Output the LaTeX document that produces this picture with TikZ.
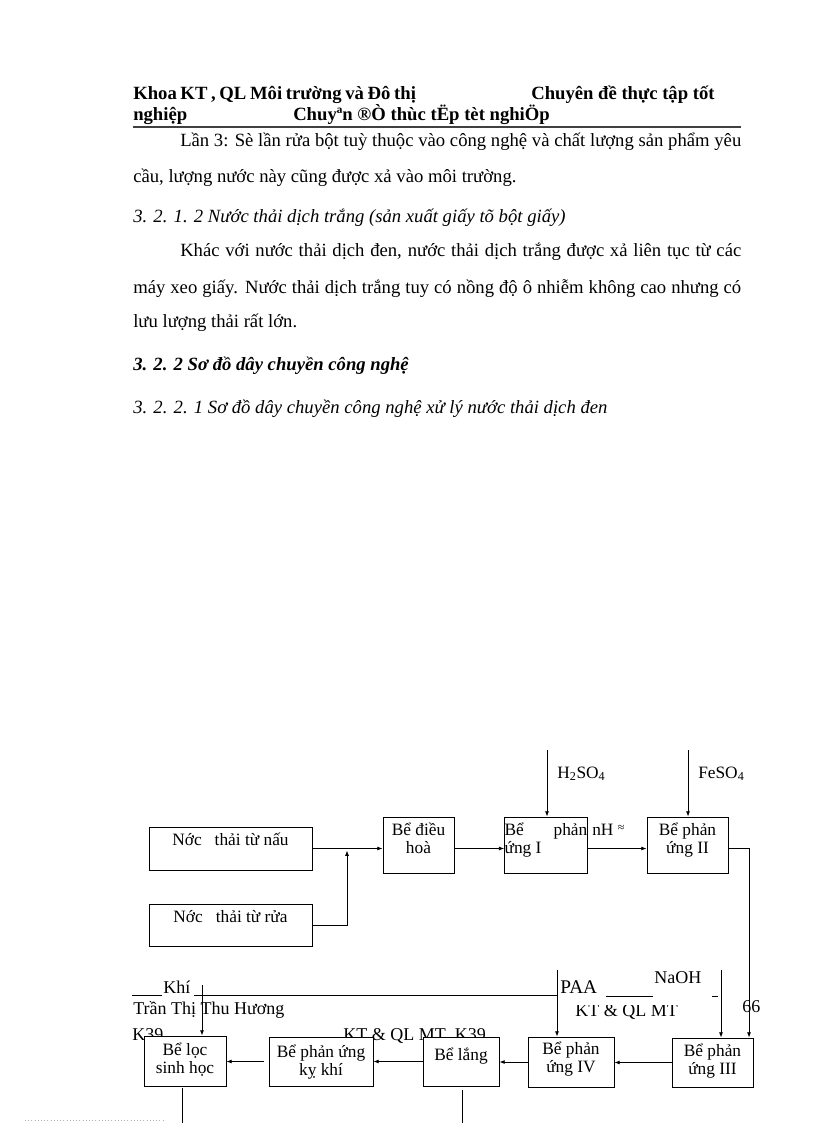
\documentclass[tikz,border=0pt]{standalone}
\usepackage{fontspec}
\setmainfont{Liberation Serif}
\usetikzlibrary{arrows.meta}

\tikzset{
  box/.style={draw, fill=white, line width=0.6pt, inner sep=0pt, text height=10pt,
    font=\fontsize{13}{13.5}\selectfont},
  wh/.style 2 args={minimum width=#1*0.75pt, minimum height=#2*0.75pt},
  dep/.style={text depth=#1},
  flow/.style={line width=0.6pt, -{Latex[length=4pt,width=3pt]}},
  wire/.style={line width=0.6pt},
  body/.style={anchor=base west, inner sep=0pt, font=\fontsize{14}{16}\selectfont},
  ital/.style={body, font=\fontsize{14}{16}\selectfont\itshape},
  head/.style={body, font=\fontsize{14}{16}\selectfont\bfseries},
  tag/.style={anchor=base west, inner sep=0pt, font=\fontsize{13.5}{15}\selectfont},
}
\newcommand\twolines[3][c]{\begin{tabular}[t]{@{}#1@{}}#2\\#3\end{tabular}}

\begin{document}
\begin{tikzpicture}[x=0.75pt,y=-0.75pt]
\useasboundingbox (0,0) rectangle (816,1123);

\node[head] (hd1) at (133,100) {\makebox[212pt][s]{Khoa KT , QL Môi trường và Đô thị}};
\node[head] (hd2) at (531,100) {Chuyên đề thực tập tốt};
\node[head] (hd3) at (133,121) {nghiệp};
\node[head] (hd4) at (293,121) {Chuyªn ®Ò thùc tËp tèt nghiÖp};
\draw[line width=1.2pt, black!75] (133,127) -- (741,127);

\node[body] (p1) at (180,147) {\makebox[420.75pt][s]{Lần 3: Sè lần rửa bột tuỳ thuộc vào công nghệ và chất lượng sản phẩm yêu}};
\node[body] (p2) at (133,183) {cầu, lượng nước này cũng được xả vào môi trường.};
\node[ital] (s1) at (133,223) {3. 2. 1. 2 Nước thải dịch trắng (sản xuất giấy tõ bột giấy)};
\node[body] (p3) at (180,257) {\makebox[420.75pt][s]{Khác với nước thải dịch đen, nước thải dịch trắng được xả liên tục từ các}};
\node[body] (p4) at (133,293) {\makebox[456pt][s]{máy xeo giấy. Nước thải dịch trắng tuy có nồng độ ô nhiễm không cao nhưng có}};
\node[body] (p5) at (133,327) {lưu lượng thải rất lớn.};
\node[ital, font=\fontsize{14}{16}\selectfont\bfseries\itshape] (s2) at (133,370) {3. 2. 2 Sơ đồ dây chuyền công nghệ};
\node[ital] (s3) at (133,413) {3. 2. 2. 1 Sơ đồ dây chuyền công nghệ xử lý nước thải dịch đen};

% footer left over on the drawing
\node[tag] (khi) at (163,993) {Khí};
\draw[wire] (132,995) -- (162,995);
\draw[wire] (194,995) -- (558,995);
\node[tag, font=\fontsize{14.5}{15}\selectfont] (paa) at (560,993) {PAA};
\draw[wire] (606,996) -- (653,996);
\node[tag] (naoh) at (654,983) {NaOH};
\draw[wire] (712,996) -- (718,996);
\node[tag] (ten) at (133,1014) {Trần Thị Thu Hương};
\node[tag] (k39a) at (132,1040) {K39};
\node[tag] (k39b) at (343,1040) {KT \& QL MT\ \ K39};
\begin{scope}
\clip (570,1005) rectangle (690,1025);
\node[tag] (ktql) at (575,1016) {KT \& QL MT};
\end{scope}
\node[tag] (trang) at (742,1012) {66};
\draw[gray!60, dotted] (25,1120) -- (165,1120);

% boxes
\node[box, wh={163}{43}, dep=15.25pt] (nau) at (230.5,848.5) {Nớc\ \ \ thải từ nấu};
\node[box, wh={163}{42}, dep=14.5pt] (rua) at (230.5,925) {Nớc\ \ \ thải từ rửa};
\node[box, wh={71}{56}, dep=24.25pt] (dieuhoa) at (418.5,845) {\twolines{Bể điều}{hoà}};
\node[box, wh={82}{56}, dep=24.25pt] (pu1) at (546,845) {\twolines[l]{\makebox[62pt][s]{Bể phản}}{ứng I}};
\node[box, wh={81}{56}, dep=24.25pt] (pu2) at (687.5,845) {\twolines{Bể phản}{ứng II}};
\node[box, wh={81}{49}, dep=19.75pt] (pu3) at (712.5,1062.5) {\twolines{Bể phản}{ứng III}};
\node[box, wh={86}{50}, dep=22pt] (pu4) at (571,1062) {\twolines{Bể phản}{ứng IV}};
\node[box, wh={76}{49}, dep=12.25pt] (lang) at (461,1061.5) {Bể lắng};
\node[box, wh={104}{49}, dep=16.75pt] (kykhi) at (321,1061.5) {\twolines{Bể phản ứng}{kỵ khí}};
\node[box, wh={82}{50}, dep=19pt] (loc) at (185,1061) {\twolines{Bể lọc}{sinh học}};

\node[tag, font=\fontsize{13}{14}\selectfont] (h2so4) at (557,778) {H\textsubscript{2}SO\textsubscript{4}};
\node[tag, font=\fontsize{13}{14}\selectfont] (feso4) at (698,778) {FeSO\textsubscript{4}};
\node[tag, font=\fontsize{13}{14}\selectfont] (ph) at (592,835) {nH \raisebox{3pt}{\small ≈}};

% top row
\coordinate (jn) at (347,848.5);
\coordinate (inh) at (547,750);
\coordinate (infe) at (688,750);
\coordinate (down) at (749,848.5);
\draw[flow] (nau.east) -- (nau.east -| dieuhoa.west);
\draw[flow] (rua.east) -| ([yshift=-1.5pt]jn);
\draw[flow] (dieuhoa.east |- nau.east) -- (pu1.west |- nau.east);
\draw[flow] (pu1.east |- nau.east) -- (pu2.west |- nau.east);
\draw[flow] (inh) -- (inh |- pu1.north);
\draw[flow] (infe) -- (infe |- pu2.north);
\draw[flow] (pu2.east |- nau.east) -| (pu3.north -| down);

% bottom row
\coordinate (innaoh) at (721,970);
\coordinate (inpaa) at (557,970);
\coordinate (inkhi) at (202,985);
\coordinate (out1) at (182,1123);
\coordinate (out2) at (462,1123);
\draw[flow] (innaoh) -- (innaoh |- pu3.north);
\draw[flow] (inpaa) -- (inpaa |- pu4.north);
\draw[flow] (inkhi) -- (inkhi |- loc.north);
\draw[flow] (pu3.west) -- (pu3.west -| pu4.east);
\draw[flow] (pu4.west) -- (pu4.west -| lang.east);
\draw[flow] (lang.west) -- (kykhi.east);
\draw[flow, shorten <=3.75pt] (kykhi.west) -- (kykhi.west -| loc.east);
\draw[wire] ([yshift=-1.5pt]out1 |- loc.south) -- (out1);
\draw[wire] ([yshift=-3pt]out2 |- lang.south) -- (out2);
\end{tikzpicture}
\end{document}
